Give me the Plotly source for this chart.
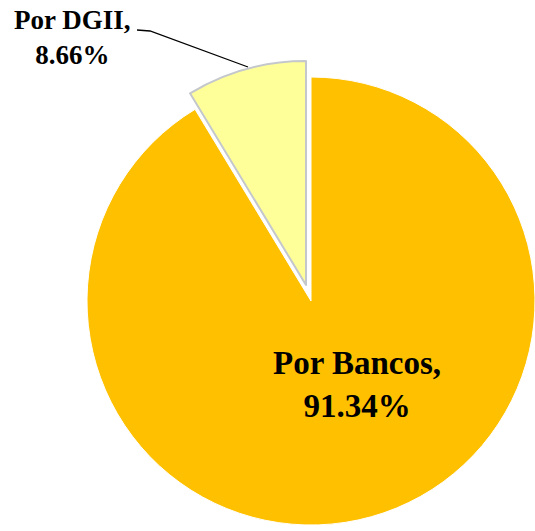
import plotly.graph_objects as go

# Data
labels = ["Por Bancos", "Por DGII"]
values = [91.34, 8.66]
colors = ["#FFC000", "#FFFF99"]

W, H = 535, 531

def px_x(p):
    return p / W

def px_y(p):
    return 1 - p / H

fig = go.Figure()

# Main pie (Bancos visible, DGII slot empty)
fig.add_trace(go.Pie(
    labels=labels, values=values, sort=False, direction="clockwise",
    rotation=0,
    marker=dict(colors=[colors[0], "rgba(0,0,0,0)"],
                line=dict(color="rgba(255,255,255,1)", width=[1, 0])),
    textinfo="none", hoverinfo="label+percent", showlegend=False,
    domain=dict(x=[px_x(87), px_x(535)], y=[px_y(525), px_y(77)]),
))

# Exploded DGII slice (same data, shifted outward)
fig.add_trace(go.Pie(
    labels=labels, values=values, sort=False, direction="clockwise",
    rotation=0,
    marker=dict(colors=["rgba(0,0,0,0)", colors[1]],
                line=dict(color=["rgba(0,0,0,0)", "#C4C8CC"], width=[0, 2])),
    textinfo="none", hoverinfo="label+percent", showlegend=False,
    domain=dict(x=[px_x(82), px_x(530)], y=[px_y(509), px_y(61)]),
))

font = dict(family="Liberation Serif, Times New Roman, serif", color="black")

fig.add_annotation(
    x=px_x(72), y=px_y(38), xref="paper", yref="paper",
    text=f"<b>{labels[1]},<br>{values[1]:.2f}%</b>", showarrow=False,
    font=dict(size=27, **font), xanchor="center", yanchor="middle", align="center",
)
fig.add_annotation(
    x=px_x(357), y=px_y(384), xref="paper", yref="paper",
    text=f"<b>{labels[0]},<br>{values[0]:.2f}%</b>", showarrow=False,
    font=dict(size=33, **font), xanchor="center", yanchor="middle", align="center",
)

# Leader line from DGII label to its slice
fig.add_shape(
    type="path", xref="paper", yref="paper",
    path=f"M {px_x(137)},{px_y(30)} L {px_x(150)},{px_y(31)} L {px_x(248)},{px_y(67)}",
    line=dict(color="black", width=1.3),
)

fig.update_layout(
    width=W, height=H, margin=dict(l=0, r=0, t=0, b=0),
    paper_bgcolor="white", plot_bgcolor="white",
)

fig.write_html(
    "out.html",
    config={"displayModeBar": False},
    post_script="document.body.style.margin='0';document.body.style.overflow='hidden';",
)
